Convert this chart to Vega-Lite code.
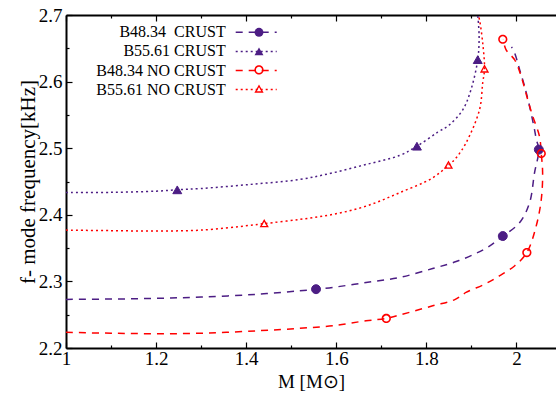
{
  "$schema": "https://vega.github.io/schema/vega-lite/v6.json",
  "width": 490,
  "height": 333,
  "autosize": {"type": "none"},
  "padding": {"left": 66, "top": 15, "right": 0, "bottom": 45},
  "background": "white",
  "config": {
    "view": {"stroke": null},
    "font": "Liberation Serif",
    "axis": {
      "grid": false,
      "labelFont": "Liberation Serif",
      "labelFontSize": 19,
      "labelColor": "black",
      "titleFont": "Liberation Serif",
      "titleFontSize": 19,
      "titleFontWeight": "normal",
      "titleColor": "black",
      "domainColor": "black",
      "domainWidth": 2,
      "tickColor": "black",
      "tickWidth": 1.2
    },
    "legend": {
      "labelFont": "Liberation Serif",
      "labelFontSize": 16,
      "labelColor": "black"
    }
  },
  "datasets": {
    "lines": [
      {"s": "B48.34\u00a0 CRUST", "i": 0, "M": 1.000, "f": 2.2730},
      {"s": "B48.34\u00a0 CRUST", "i": 1, "M": 1.100, "f": 2.2735},
      {"s": "B48.34\u00a0 CRUST", "i": 2, "M": 1.200, "f": 2.2745},
      {"s": "B48.34\u00a0 CRUST", "i": 3, "M": 1.300, "f": 2.2765},
      {"s": "B48.34\u00a0 CRUST", "i": 4, "M": 1.420, "f": 2.2805},
      {"s": "B48.34\u00a0 CRUST", "i": 5, "M": 1.518, "f": 2.2858},
      {"s": "B48.34\u00a0 CRUST", "i": 6, "M": 1.555, "f": 2.2883},
      {"s": "B48.34\u00a0 CRUST", "i": 7, "M": 1.592, "f": 2.2910},
      {"s": "B48.34\u00a0 CRUST", "i": 8, "M": 1.666, "f": 2.2983},
      {"s": "B48.34\u00a0 CRUST", "i": 9, "M": 1.740, "f": 2.3058},
      {"s": "B48.34\u00a0 CRUST", "i": 10, "M": 1.814, "f": 2.3193},
      {"s": "B48.34\u00a0 CRUST", "i": 11, "M": 1.866, "f": 2.3298},
      {"s": "B48.34\u00a0 CRUST", "i": 12, "M": 1.910, "f": 2.3420},
      {"s": "B48.34\u00a0 CRUST", "i": 13, "M": 1.940, "f": 2.3530},
      {"s": "B48.34\u00a0 CRUST", "i": 14, "M": 1.970, "f": 2.3681},
      {"s": "B48.34\u00a0 CRUST", "i": 15, "M": 2.0067, "f": 2.3880},
      {"s": "B48.34\u00a0 CRUST", "i": 16, "M": 2.029, "f": 2.4180},
      {"s": "B48.34\u00a0 CRUST", "i": 17, "M": 2.040, "f": 2.4630},
      {"s": "B48.34\u00a0 CRUST", "i": 18, "M": 2.0496, "f": 2.4979},
      {"s": "B48.34\u00a0 CRUST", "i": 19, "M": 2.044, "f": 2.5130},
      {"s": "B48.34\u00a0 CRUST", "i": 20, "M": 2.040, "f": 2.5280},
      {"s": "B48.34\u00a0 CRUST", "i": 21, "M": 2.029, "f": 2.5630},
      {"s": "B48.34\u00a0 CRUST", "i": 22, "M": 2.018, "f": 2.5930},
      {"s": "B48.34\u00a0 CRUST", "i": 23, "M": 2.007, "f": 2.6180},
      {"s": "B48.34\u00a0 CRUST", "i": 24, "M": 1.996, "f": 2.6427},
      {"s": "B48.34\u00a0 CRUST", "i": 25, "M": 1.989, "f": 2.6520},

      {"s": "B55.61 CRUST", "i": 0, "M": 1.000, "f": 2.4335},
      {"s": "B55.61 CRUST", "i": 1, "M": 1.100, "f": 2.4337},
      {"s": "B55.61 CRUST", "i": 2, "M": 1.200, "f": 2.4355},
      {"s": "B55.61 CRUST", "i": 3, "M": 1.247, "f": 2.4375},
      {"s": "B55.61 CRUST", "i": 4, "M": 1.300, "f": 2.4395},
      {"s": "B55.61 CRUST", "i": 5, "M": 1.407, "f": 2.4455},
      {"s": "B55.61 CRUST", "i": 6, "M": 1.518, "f": 2.4530},
      {"s": "B55.61 CRUST", "i": 7, "M": 1.592, "f": 2.4630},
      {"s": "B55.61 CRUST", "i": 8, "M": 1.666, "f": 2.4755},
      {"s": "B55.61 CRUST", "i": 9, "M": 1.740, "f": 2.4890},
      {"s": "B55.61 CRUST", "i": 10, "M": 1.779, "f": 2.5030},
      {"s": "B55.61 CRUST", "i": 11, "M": 1.825, "f": 2.5240},
      {"s": "B55.61 CRUST", "i": 12, "M": 1.851, "f": 2.5350},
      {"s": "B55.61 CRUST", "i": 13, "M": 1.881, "f": 2.5580},
      {"s": "B55.61 CRUST", "i": 14, "M": 1.899, "f": 2.5880},
      {"s": "B55.61 CRUST", "i": 15, "M": 1.914, "f": 2.6330},
      {"s": "B55.61 CRUST", "i": 16, "M": 1.917, "f": 2.6675},
      {"s": "B55.61 CRUST", "i": 17, "M": 1.914, "f": 2.7000},

      {"s": "B48.34 NO CRUST", "i": 0, "M": 1.000, "f": 2.2235},
      {"s": "B48.34 NO CRUST", "i": 1, "M": 1.100, "f": 2.2222},
      {"s": "B48.34 NO CRUST", "i": 2, "M": 1.2075, "f": 2.2214},
      {"s": "B48.34 NO CRUST", "i": 3, "M": 1.3185, "f": 2.2225},
      {"s": "B48.34 NO CRUST", "i": 4, "M": 1.4295, "f": 2.2260},
      {"s": "B48.34 NO CRUST", "i": 5, "M": 1.518, "f": 2.2295},
      {"s": "B48.34 NO CRUST", "i": 6, "M": 1.592, "f": 2.2334},
      {"s": "B48.34 NO CRUST", "i": 7, "M": 1.666, "f": 2.2409},
      {"s": "B48.34 NO CRUST", "i": 8, "M": 1.711, "f": 2.2444},
      {"s": "B48.34 NO CRUST", "i": 9, "M": 1.740, "f": 2.2494},
      {"s": "B48.34 NO CRUST", "i": 10, "M": 1.814, "f": 2.2633},
      {"s": "B48.34 NO CRUST", "i": 11, "M": 1.862, "f": 2.2723},
      {"s": "B48.34 NO CRUST", "i": 12, "M": 1.888, "f": 2.2834},
      {"s": "B48.34 NO CRUST", "i": 13, "M": 1.930, "f": 2.2960},
      {"s": "B48.34 NO CRUST", "i": 14, "M": 1.962, "f": 2.3083},
      {"s": "B48.34 NO CRUST", "i": 15, "M": 1.9956, "f": 2.3232},
      {"s": "B48.34 NO CRUST", "i": 16, "M": 2.023, "f": 2.3433},
      {"s": "B48.34 NO CRUST", "i": 17, "M": 2.0437, "f": 2.3830},
      {"s": "B48.34 NO CRUST", "i": 18, "M": 2.055, "f": 2.4230},
      {"s": "B48.34 NO CRUST", "i": 19, "M": 2.058, "f": 2.4630},
      {"s": "B48.34 NO CRUST", "i": 20, "M": 2.055, "f": 2.4920},
      {"s": "B48.34 NO CRUST", "i": 21, "M": 2.051, "f": 2.5180},
      {"s": "B48.34 NO CRUST", "i": 22, "M": 2.036, "f": 2.5480},
      {"s": "B48.34 NO CRUST", "i": 23, "M": 2.025, "f": 2.5728},
      {"s": "B48.34 NO CRUST", "i": 24, "M": 2.0105, "f": 2.6077},
      {"s": "B48.34 NO CRUST", "i": 25, "M": 1.996, "f": 2.6326},
      {"s": "B48.34 NO CRUST", "i": 26, "M": 1.977, "f": 2.6476},
      {"s": "B48.34 NO CRUST", "i": 27, "M": 1.970, "f": 2.6636},

      {"s": "B55.61 NO CRUST", "i": 0, "M": 1.000, "f": 2.3770},
      {"s": "B55.61 NO CRUST", "i": 1, "M": 1.100, "f": 2.3762},
      {"s": "B55.61 NO CRUST", "i": 2, "M": 1.200, "f": 2.3757},
      {"s": "B55.61 NO CRUST", "i": 3, "M": 1.300, "f": 2.3770},
      {"s": "B55.61 NO CRUST", "i": 4, "M": 1.407, "f": 2.3840},
      {"s": "B55.61 NO CRUST", "i": 5, "M": 1.440, "f": 2.3867},
      {"s": "B55.61 NO CRUST", "i": 6, "M": 1.518, "f": 2.3930},
      {"s": "B55.61 NO CRUST", "i": 7, "M": 1.592, "f": 2.4006},
      {"s": "B55.61 NO CRUST", "i": 8, "M": 1.666, "f": 2.4130},
      {"s": "B55.61 NO CRUST", "i": 9, "M": 1.740, "f": 2.4330},
      {"s": "B55.61 NO CRUST", "i": 10, "M": 1.814, "f": 2.4555},
      {"s": "B55.61 NO CRUST", "i": 11, "M": 1.849, "f": 2.4745},
      {"s": "B55.61 NO CRUST", "i": 12, "M": 1.866, "f": 2.4855},
      {"s": "B55.61 NO CRUST", "i": 13, "M": 1.888, "f": 2.5080},
      {"s": "B55.61 NO CRUST", "i": 14, "M": 1.918, "f": 2.5580},
      {"s": "B55.61 NO CRUST", "i": 15, "M": 1.925, "f": 2.5980},
      {"s": "B55.61 NO CRUST", "i": 16, "M": 1.929, "f": 2.6190},
      {"s": "B55.61 NO CRUST", "i": 17, "M": 1.925, "f": 2.6580},
      {"s": "B55.61 NO CRUST", "i": 18, "M": 1.918, "f": 2.6925},
      {"s": "B55.61 NO CRUST", "i": 19, "M": 1.915, "f": 2.7000}
    ],
    "pts": [
      {"s": "B48.34\u00a0 CRUST", "M": 1.555, "f": 2.2883},
      {"s": "B48.34\u00a0 CRUST", "M": 1.9696, "f": 2.3681},
      {"s": "B48.34\u00a0 CRUST", "M": 2.0496, "f": 2.4979},
      {"s": "B55.61 CRUST", "M": 1.247, "f": 2.4375},
      {"s": "B55.61 CRUST", "M": 1.779, "f": 2.5030},
      {"s": "B55.61 CRUST", "M": 1.914, "f": 2.6330},
      {"s": "B48.34 NO CRUST", "M": 1.711, "f": 2.2444},
      {"s": "B48.34 NO CRUST", "M": 2.023, "f": 2.3433},
      {"s": "B48.34 NO CRUST", "M": 2.055, "f": 2.4920},
      {"s": "B48.34 NO CRUST", "M": 1.9696, "f": 2.6636},
      {"s": "B55.61 NO CRUST", "M": 1.440, "f": 2.3867},
      {"s": "B55.61 NO CRUST", "M": 1.849, "f": 2.4745},
      {"s": "B55.61 NO CRUST", "M": 1.929, "f": 2.6190}
    ]
  },
  "resolve": {
    "axis": {"x": "independent", "y": "independent"},
    "scale": {"shape": "independent"},
    "legend": {"shape": "independent"}
  },
  "layer": [
    {
      "data": {"name": "lines"},
      "mark": {"type": "line", "strokeWidth": 1.5, "interpolate": "catmull-rom", "clip": true},
      "encoding": {
        "x": {
          "field": "M", "type": "quantitative",
          "scale": {"domain": [1, 2.0877], "nice": false, "zero": false},
          "axis": {
            "orient": "bottom",
            "values": [1, 1.2, 1.4, 1.6, 1.8, 2.0],
            "ticks": false,
            "format": "~g",
            "labelPadding": 1,
            "labelFlush": false,
            "labelOverlap": false,
            "title": "M [M⊙]",
            "titlePadding": 4
          }
        },
        "y": {
          "field": "f", "type": "quantitative",
          "scale": {"domain": [2.2, 2.7], "nice": false, "zero": false},
          "axis": {
            "orient": "left",
            "values": [2.2, 2.3, 2.4, 2.5, 2.6, 2.7],
            "ticks": false,
            "format": ".1f",
            "labelPadding": 4,
            "labelFlush": false,
            "labelOverlap": false,
            "title": "f- mode frequency[kHz]",
            "titleFontSize": 21,
            "titlePadding": 0
          }
        },
        "order": {"field": "i", "type": "quantitative"},
        "stroke": {
          "field": "s", "type": "nominal",
          "scale": {
            "domain": ["B48.34\u00a0 CRUST", "B55.61 CRUST", "B48.34 NO CRUST", "B55.61 NO CRUST"],
            "range": ["#4c1d84", "#4c1d84", "#ff0000", "#ff0000"]
          },
          "legend": {
            "orient": "none", "legendX": 182.2, "legendY": 9.3, "title": null,
            "symbolType": "M-4.1,0H4.1", "symbolSize": 100, "symbolStrokeWidth": 1.5,
            "labelAlign": "right", "labelOffset": -38.5, "rowPadding": 3.1
          }
        },
        "strokeDash": {
          "field": "s", "type": "nominal",
          "scale": {
            "domain": ["B48.34\u00a0 CRUST", "B55.61 CRUST", "B48.34 NO CRUST", "B55.61 NO CRUST"],
            "range": [[7, 6], [2, 3], [7, 6], [2, 3]]
          },
          "legend": {
            "orient": "none", "legendX": 182.2, "legendY": 9.3, "title": null,
            "symbolType": "M-4.1,0H4.1", "symbolSize": 100, "symbolStrokeWidth": 1.5,
            "labelAlign": "right", "labelOffset": -38.5, "rowPadding": 3.1
          }
        }
      }
    },
    {
      "data": {"name": "pts"},
      "transform": [{"filter": "indexof(datum.s, 'NO') < 0"}],
      "mark": {"type": "point", "filled": true, "fill": "#4c1d84", "stroke": "#4c1d84", "strokeWidth": 1, "size": 80, "opacity": 1},
      "encoding": {
        "x": {
          "field": "M", "type": "quantitative",
          "scale": {"domain": [1, 2.0877], "nice": false, "zero": false},
          "axis": {
            "orient": "bottom",
            "values": [1, 1.2, 1.4, 1.6, 1.8, 2.0],
            "tickSize": -6,
            "labels": false,
            "domain": false,
            "title": null
          }
        },
        "y": {
          "field": "f", "type": "quantitative",
          "scale": {"domain": [2.2, 2.7], "nice": false, "zero": false},
          "axis": {
            "orient": "left",
            "values": [2.2, 2.3, 2.4, 2.5, 2.6, 2.7],
            "tickSize": -6,
            "labels": false,
            "domain": false,
            "title": null
          }
        },
        "shape": {
          "field": "s", "type": "nominal",
          "scale": {"range": ["circle", "triangle-up"]},
          "legend": {
            "orient": "none", "legendX": 185, "legendY": 9.3, "title": null,
            "symbolSize": 80, "symbolStrokeWidth": 1, "labelOpacity": 0, "rowPadding": 3.1,
            "symbolFillColor": "#4c1d84", "symbolStrokeColor": "#4c1d84"
          }
        }
      }
    },
    {
      "data": {"name": "pts"},
      "transform": [{"filter": "indexof(datum.s, 'NO') >= 0"}],
      "mark": {"type": "point", "filled": true, "fill": "#ff0000", "strokeWidth": 0, "size": 85, "opacity": 1},
      "encoding": {
        "x": {
          "field": "M", "type": "quantitative",
          "scale": {"domain": [1, 2.0877], "nice": false, "zero": false},
          "axis": {
            "orient": "bottom",
            "values": [1.1, 1.3, 1.5, 1.7, 1.9],
            "tickSize": -3,
            "labels": false,
            "domain": false,
            "title": null
          }
        },
        "y": {
          "field": "f", "type": "quantitative",
          "scale": {"domain": [2.2, 2.7], "nice": false, "zero": false},
          "axis": {
            "orient": "left",
            "values": [2.25, 2.35, 2.45, 2.55, 2.65],
            "tickSize": -3,
            "labels": false,
            "domain": false,
            "title": null
          }
        },
        "shape": {
          "field": "s", "type": "nominal",
          "scale": {"range": [
            "M-1,0A1,1,0,1,1,1,0A1,1,0,1,1,-1,0ZM-0.66,0A0.66,0.66,0,1,0,0.66,0A0.66,0.66,0,1,0,-0.66,0Z",
            "M0,-1L1,0.8L-1,0.8ZM0,-0.4L-0.51,0.51L0.51,0.51Z"
          ]},
          "legend": {
            "orient": "none", "legendX": 185, "legendY": 46.9, "title": null,
            "symbolSize": 85, "symbolStrokeWidth": 0, "rowPadding": 3.1,
            "labelOpacity": 0,
            "symbolFillColor": "#ff0000"
          }
        }
      }
    },
    {
      "data": {"name": "pts"},
      "mark": {"type": "point", "opacity": 0},
      "encoding": {
        "x": {
          "field": "M", "type": "quantitative",
          "scale": {"domain": [1, 2.0877], "nice": false, "zero": false},
          "axis": {
            "orient": "top",
            "values": [1, 1.2, 1.4, 1.6, 1.8, 2.0],
            "tickSize": -6,
            "labels": false,
            "title": null
          }
        },
        "y": {
          "field": "f", "type": "quantitative",
          "scale": {"domain": [2.2, 2.7], "nice": false, "zero": false},
          "axis": null
        }
      }
    },
    {
      "data": {"name": "pts"},
      "mark": {"type": "point", "opacity": 0},
      "encoding": {
        "x": {
          "field": "M", "type": "quantitative",
          "scale": {"domain": [1, 2.0877], "nice": false, "zero": false},
          "axis": {
            "orient": "top",
            "values": [1.1, 1.3, 1.5, 1.7, 1.9],
            "tickSize": -3,
            "labels": false,
            "domain": false,
            "title": null
          }
        },
        "y": {
          "field": "f", "type": "quantitative",
          "scale": {"domain": [2.2, 2.7], "nice": false, "zero": false},
          "axis": null
        }
      }
    }
  ]
}
